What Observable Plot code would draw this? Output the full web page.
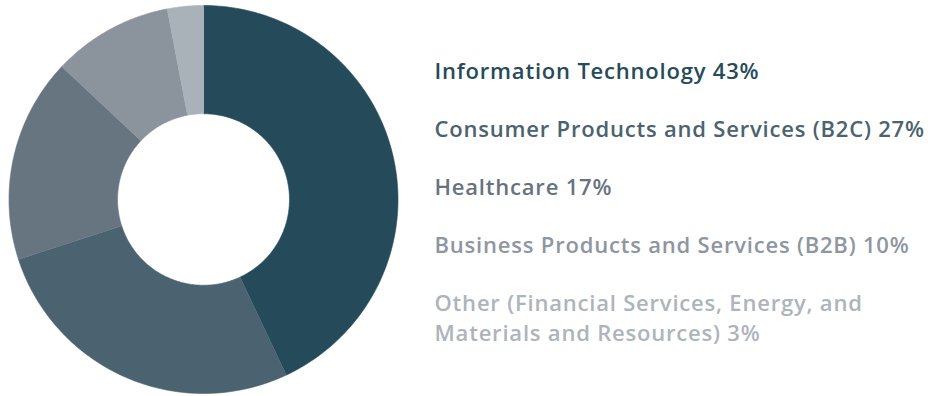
<!DOCTYPE html>
<html><head><meta charset="utf-8">
<script src="https://cdn.jsdelivr.net/npm/d3@7"></script>
<script src="https://cdn.jsdelivr.net/npm/@observablehq/plot@0.6"></script>
<style>html,body{margin:0;padding:0;background:#fff;} #chart{width:938px;height:396px;} .lbl text{letter-spacing:0.8px;}</style>
</head><body><div id="chart"></div>
<script>
const categories = [
  "Information Technology",
  "Consumer Products and Services (B2C)",
  "Healthcare",
  "Business Products and Services (B2B)",
  "Other (Financial Services, Energy, and Materials and Resources)"
];
const shares = [43, 27, 17, 10, 3];
const labels = [
  "Information Technology 43%",
  "Consumer Products and Services (B2C) 27%",
  "Healthcare 17%",
  "Business Products and Services (B2B) 10%",
  "Other (Financial Services, Energy, and\nMaterials and Resources) 3%"
];
const sliceColors = ["#254b5b", "#4b6370", "#66757f", "#8b939d", "#a9b1b9"];
const textColors = ["#264b5a", "#4b6370", "#67737e", "#8e969f", "#adb4bb"];

const innerRatio = 0.442;
const pie = d3.pie().sort(null).value(d => d.share);
const arcs = pie(categories.map((c, i) => ({category: c, share: shares[i], i})));
const pts = [];
for (const a of arcs) {
  const n = Math.max(8, Math.ceil((a.endAngle - a.startAngle) * 60));
  for (let k = 0; k <= n; k++) {
    const t = a.startAngle + (a.endAngle - a.startAngle) * k / n;
    pts.push({category: a.data.category, x: Math.sin(t), y: Math.cos(t)});
  }
  for (let k = n; k >= 0; k--) {
    const t = a.startAngle + (a.endAngle - a.startAngle) * k / n;
    pts.push({category: a.data.category, x: innerRatio * Math.sin(t), y: innerRatio * Math.cos(t)});
  }
}

const textMarks = labels.map((l, i) => Plot.text([l], {
  text: d => d,
  frameAnchor: "top-left",
  dx: 434,
  dy: 57 + i * 58,
  textAnchor: "start",
  lineAnchor: "top",
  fill: textColors[i],
  fontSize: 22,
  fontWeight: 600,
  fontFamily: "Open Sans",
  lineHeight: 1.36,
  className: "lbl"
}));

const chart = Plot.plot({
  width: 938,
  height: 396,
  margin: 0,
  style: {background: "#fff"},
  x: {domain: [-1, 1], range: [8.5, 397.5], axis: null},
  y: {domain: [-1, 1], range: [393, 5], axis: null},
  color: {domain: categories, range: sliceColors},
  marks: [
    Plot.line(pts, {x: "x", y: "y", z: "category", fill: "category", stroke: "category", strokeWidth: 0.6}),
    ...textMarks
  ]
});
document.getElementById("chart").append(chart);
</script>
</body></html>
